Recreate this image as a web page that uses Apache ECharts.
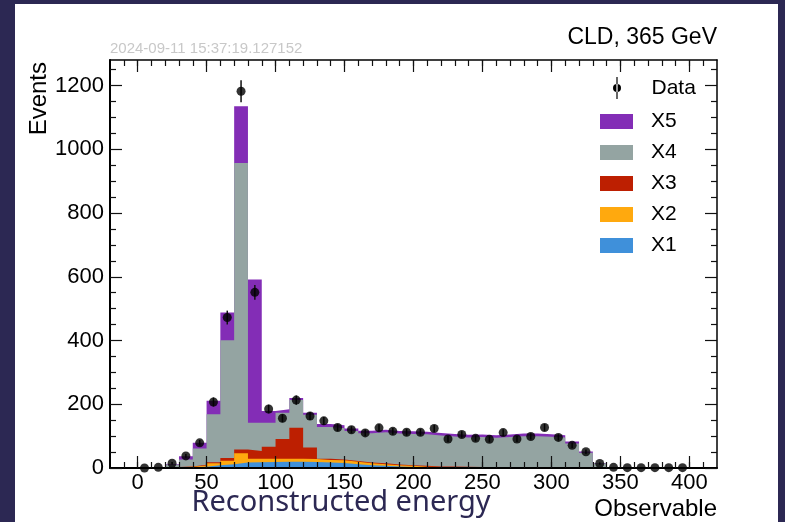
<!DOCTYPE html>
<html>
<head>
<meta charset="utf-8">
<title>Reconstructed energy</title>
<script src="https://cdn.jsdelivr.net/npm/echarts@6/dist/echarts.min.js"></script>
<style>
  html, body { margin: 0; padding: 0; background: #2c2853; }
  #chart { width: 785px; height: 522px; }
</style>
</head>
<body>
<div id="chart"></div>
<script>
// Histogram binning: lower edges of the 10-unit bins
const binLow = [0, 10, 20, 30, 40, 50, 60, 70, 80, 90,
  100, 110, 120, 130, 140, 150, 160, 170, 180, 190,
  200, 210, 220, 230, 240, 250, 260, 270, 280, 290,
  300, 310, 320, 330, 340, 350, 360, 370, 380, 390];
const binWidth = 10;

// Stacked simulated contributions (events per bin)
const x1Values = [0, 0, 1, 2, 4, 9, 12, 17, 18, 19,
  20, 20, 19, 17, 16, 12, 9, 7, 5, 3,
  2, 1, 1, 0, 0, 0, 0, 0, 0, 0,
  0, 0, 0, 0, 0, 0, 0, 0, 0, 0];
const x2Values = [0, 0, 1, 2, 4, 6, 11, 29, 11, 10,
  9, 9, 9, 8, 8, 8, 6, 5, 4, 4,
  2, 2, 1, 1, 0, 0, 0, 0, 0, 0,
  0, 0, 0, 0, 0, 0, 0, 0, 0, 0];
const x3Values = [0, 0, 1, 1, 2, 3, 8, 12, 24, 38,
  62, 97, 36, 4, 3, 2, 2, 3, 2, 2,
  3, 2, 3, 3, 3, 3, 3, 3, 3, 3,
  2, 1, 1, 0, 0, 0, 0, 0, 0, 0];
const x4Values = [0, 1, 7, 22, 51, 151, 370, 899, 89, 75,
  82, 87, 103, 100, 98, 94, 92, 97, 97, 98,
  99, 97, 94, 92, 94, 92, 94, 97, 97, 95,
  94, 76, 47, 14, 0, 0, 0, 0, 0, 0];
const x5Values = [0, 0, 2, 10, 18, 42, 87, 178, 449, 37,
  11, 7, 6, 9, 9, 8, 8, 8, 8, 8,
  8, 8, 8, 8, 8, 8, 8, 8, 8, 8,
  7, 6, 4, 1, 0, 0, 0, 0, 0, 0];

// Observed counts per bin
const dataValues = [0, 2, 15, 38, 79, 207, 472, 1182, 551, 185,
  156, 213, 163, 148, 127, 120, 110, 126, 115, 112,
  112, 124, 91, 105, 93, 90, 111, 91, 99, 127,
  96, 71, 51, 14, 2, 1, 1, 1, 1, 1];

// Axis ticks
const xMajorTicks = [0, 50, 100, 150, 200, 250, 300, 350, 400];
const xMinorTicks = [-10, 0, 10, 20, 30, 40, 50, 60, 70, 80, 90, 100, 110, 120, 130, 140,
  150, 160, 170, 180, 190, 200, 210, 220, 230, 240, 250, 260, 270, 280, 290, 300,
  310, 320, 330, 340, 350, 360, 370, 380, 390, 400, 410];
const yMajorTicks = [0, 200, 400, 600, 800, 1000, 1200];
const yMinorTicks = [50, 100, 150, 250, 300, 350, 450, 500, 550, 650, 700, 750,
  850, 900, 950, 1050, 1100, 1150, 1250];

// Bottom-to-top stacking order
const components = [
  { name: 'X1', values: x1Values, color: '#3f90da' },
  { name: 'X2', values: x2Values, color: '#ffa90e' },
  { name: 'X3', values: x3Values, color: '#bd1f01' },
  { name: 'X4', values: x4Values, color: '#94a4a2' },
  { name: 'X5', values: x5Values, color: '#832db6' }
];

const X_MIN = -20, X_MAX = 420, Y_MIN = 0, Y_MAX = 1280;
const FONT = "'Liberation Sans', Arial, Helvetica, sans-serif";
const legendText = { fontFamily: FONT, fontSize: 21, color: '#000', padding: [0, 0, 0, 13] };

// Cumulative heights: each component is drawn as a filled step area from zero
// up to the running sum, the higher sums underneath the lower ones.
const running = binLow.map(() => 0);
const stackSeries = components.map((c, k) => {
  const cum = c.values.map((v, i) => (running[i] += v));
  return {
    type: 'line',
    name: c.name,
    step: 'end',
    symbol: 'none',
    xAxisIndex: 0,
    yAxisIndex: 0,
    itemStyle: { color: c.color },
    lineStyle: { width: 0, opacity: 0 },
    areaStyle: { color: c.color, opacity: 1 },
    data: binLow.map((x, i) => [x, cum[i]])
      .concat([[binLow[binLow.length - 1] + binWidth, 0]]),
    silent: true,
    z: 2 + (components.length - k)
  };
}).reverse();

const binCenters = binLow.map(x => x + binWidth / 2);

const errorSeries = {
  type: 'custom',
  name: 'Data',
  xAxisIndex: 0,
  yAxisIndex: 0,
  itemStyle: { color: '#000' },
  data: binCenters.map((x, i) => {
    const e = Math.sqrt(dataValues[i]);
    return [x, dataValues[i] - e, dataValues[i] + e];
  }),
  encode: { x: 0, y: [1, 2] },
  renderItem: function (params, api) {
    const lo = api.coord([api.value(0), api.value(1)]);
    const hi = api.coord([api.value(0), api.value(2)]);
    return {
      type: 'line',
      shape: { x1: lo[0], y1: lo[1], x2: hi[0], y2: hi[1] },
      style: { stroke: '#111', lineWidth: 1.5 }
    };
  },
  silent: true,
  z: 10
};

const pointSeries = {
  type: 'scatter',
  name: 'Data',
  xAxisIndex: 0,
  yAxisIndex: 0,
  symbol: 'circle',
  symbolSize: 9,
  itemStyle: { color: '#000' },
  data: binCenters.map((x, i) => [x, dataValues[i]]),
  clip: false,
  silent: true,
  z: 11
};

function xAxisDef(position, ticks, len, withLine, lineWidth, extra) {
  return Object.assign({
    type: 'value', position: position, min: X_MIN, max: X_MAX,
    axisLine: { show: withLine, onZero: false, lineStyle: { color: '#000', width: lineWidth } },
    axisTick: { show: true, inside: true, length: len, customValues: ticks,
      lineStyle: { color: '#111', width: 1.2 } },
    axisLabel: { show: false },
    splitLine: { show: false },
    minorTick: { show: false },
    z: 20
  }, extra || {});
}
function yAxisDef(position, ticks, len, withLine, lineWidth, extra) {
  return Object.assign({
    type: 'value', position: position, min: Y_MIN, max: Y_MAX,
    axisLine: { show: withLine, onZero: false, lineStyle: { color: '#000', width: lineWidth } },
    axisTick: { show: true, inside: true, length: len, customValues: ticks,
      lineStyle: { color: '#111', width: 1.2 } },
    axisLabel: { show: false },
    splitLine: { show: false },
    minorTick: { show: false },
    z: 20
  }, extra || {});
}

const chart = echarts.init(document.getElementById('chart'), null, { renderer: 'canvas' });

chart.setOption({
  animation: false,
  backgroundColor: '#2c2853',
  graphic: [
    { type: 'rect', z: -10, silent: true,
      shape: { x: 15, y: 4, width: 763, height: 518 },
      style: { fill: '#ffffff' } },
    { type: 'text', z: 30, silent: true,
      x: 341, y: 503,
      style: { text: 'Reconstructed energy', fill: '#2c2853',
        font: "29px 'Noto Sans', 'Open Sans', sans-serif",
        align: 'center', verticalAlign: 'middle' } },
    { type: 'text', z: 30, silent: true,
      x: 39, y: 62, rotation: Math.PI / 2,
      style: { text: 'Events', fill: '#000',
        font: "24px 'Liberation Sans', Arial, sans-serif",
        align: 'right', verticalAlign: 'middle' } }
  ],
  title: [
    { text: 'CLD, 365 GeV', right: 68, top: 26, padding: 0,
      textStyle: { fontFamily: FONT, fontSize: 23, fontWeight: 'normal', color: '#000' } },
    { text: '2024-09-11 15:37:19.127152', left: 110, top: 41, padding: 0,
      textStyle: { fontFamily: FONT, fontSize: 15, fontWeight: 'normal', color: '#c8c8c8' } }
  ],
  grid: { left: 110, right: 68, top: 60, bottom: 54, containLabel: false, outerBoundsMode: 'none' },
  legend: [
    {
      orient: 'vertical', left: 613, top: 77,
      itemWidth: 33, itemHeight: 22, padding: 0,
      selectedMode: false, z: 25,
      formatter: name => '{g|}{t|' + name + '}',
      textStyle: {
        fontFamily: FONT, fontSize: 21, color: '#000',
        rich: {
          g: { width: 13, height: 21 },
          t: { fontFamily: FONT, fontSize: 21, color: '#000' }
        }
      },
      data: [{ name: 'Data',
        icon: 'path://M3.4,0H4.6V22H3.4Z M0,11A4,4,0,1,0,8,11A4,4,0,1,0,0,11Z',
        itemStyle: { color: '#000' } }]
    },
    {
      orient: 'vertical', left: 600, top: 111,
      itemWidth: 33, itemHeight: 15, itemGap: 10, padding: 0,
      selectedMode: false, z: 25,
      textStyle: legendText,
      data: ['X5', 'X4', 'X3', 'X2', 'X1'].map(n => ({
        name: n, icon: 'rect',
        itemStyle: { color: components.find(c => c.name === n).color, borderWidth: 0 }
      }))
    }
  ],
  xAxis: [
    xAxisDef('bottom', xMajorTicks, 12, true, 2, {
      name: 'Observable', nameLocation: 'end', nameGap: 0,
      nameTextStyle: { fontFamily: FONT, fontSize: 24, color: '#000',
        align: 'right', verticalAlign: 'top', padding: [29, 0, 0, 0] },
      axisLabel: { show: true, customValues: xMajorTicks, margin: 4,
        fontFamily: FONT, fontSize: 22, color: '#000',
        formatter: v => String(v) }
    }),
    xAxisDef('bottom', xMinorTicks, 6, false, 1),
    xAxisDef('top', xMajorTicks, 12, true, 1.5),
    xAxisDef('top', xMinorTicks, 6, false, 1)
  ],
  yAxis: [
    yAxisDef('left', yMajorTicks, 12, true, 2, {
      axisLabel: { show: true, customValues: yMajorTicks, margin: 6,
        fontFamily: FONT, fontSize: 22, color: '#000',
        formatter: v => String(v) }
    }),
    yAxisDef('left', yMinorTicks, 6, false, 1),
    yAxisDef('right', yMajorTicks, 12, true, 1.5),
    yAxisDef('right', yMinorTicks, 6, false, 1)
  ],
  series: stackSeries.concat([errorSeries, pointSeries])
});
</script>
</body>
</html>
